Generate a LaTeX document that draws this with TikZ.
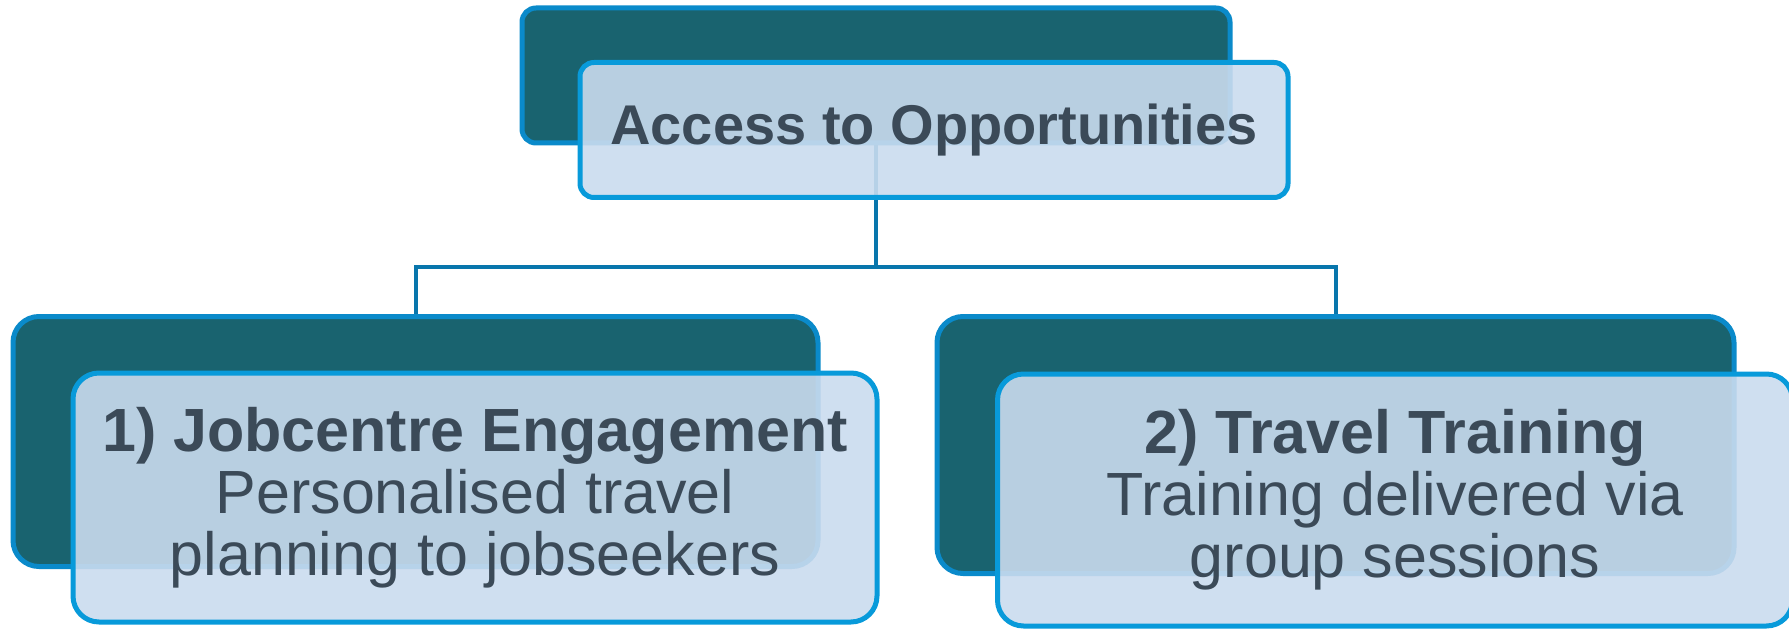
\documentclass[tikz,border=0pt]{standalone}
\usepackage{fontspec}
\setmainfont{Liberation Sans}
\definecolor{backfill}{RGB}{25,99,111}
\definecolor{backline}{RGB}{10,138,202}
\definecolor{frontfill}{RGB}{202,219,238}
\definecolor{frontline}{RGB}{8,154,218}
\definecolor{connline}{RGB}{8,118,172}
\definecolor{txt}{RGB}{59,74,88}
\tikzset{
  backbox/.style={draw=backline, fill=backfill, line width=5pt, rounded corners=#1, inner sep=0pt},
  frontbox/.style={draw=frontline, fill=frontfill, fill opacity=0.9, text opacity=1, line width=5pt, rounded corners=#1, inner sep=0pt, align=center, text=txt},
  conn/.style={draw=connline, line width=4pt},
  titletext/.style={font=\fontsize{56}{60}\selectfont\bfseries},
  childtext/.style={font=\fontsize{61}{62}\selectfont}
}
\begin{document}
\begin{tikzpicture}[x=1pt,y=-1pt]
\useasboundingbox (0,0) rectangle (1789,631);
% back boxes
\node[backbox=14pt, minimum width=708pt, minimum height=135pt] (tb) at (876,75.5) {};
\node[backbox=26pt, minimum width=805pt, minimum height=250pt] (lb) at (415.5,441.5) {};
\node[backbox=26pt, minimum width=797pt, minimum height=257pt] (rb) at (1335.5,445) {};
% connectors
\coordinate (j) at (876,267);
\draw[conn] (tb.south) -- (j) -| (lb.north);
\draw[conn] (j) -| (rb.north);
% front boxes
\node[frontbox=14pt, minimum width=708pt, minimum height=135pt, titletext] (tf) at (934,130) {\raisebox{-4pt}{Access to Opportunities}};
\node[frontbox=26pt, minimum width=804pt, minimum height=249pt, childtext] (lf) at (475,497.5)
  {\textbf{1) Jobcentre Engagement}\\Personalised travel\\planning to jobseekers};
\node[frontbox=26pt, minimum width=795pt, minimum height=252pt, childtext] (rf) at (1395,500)
  {\textbf{2) Travel Training}\\Training delivered via\\group sessions};
\end{tikzpicture}
\end{document}
